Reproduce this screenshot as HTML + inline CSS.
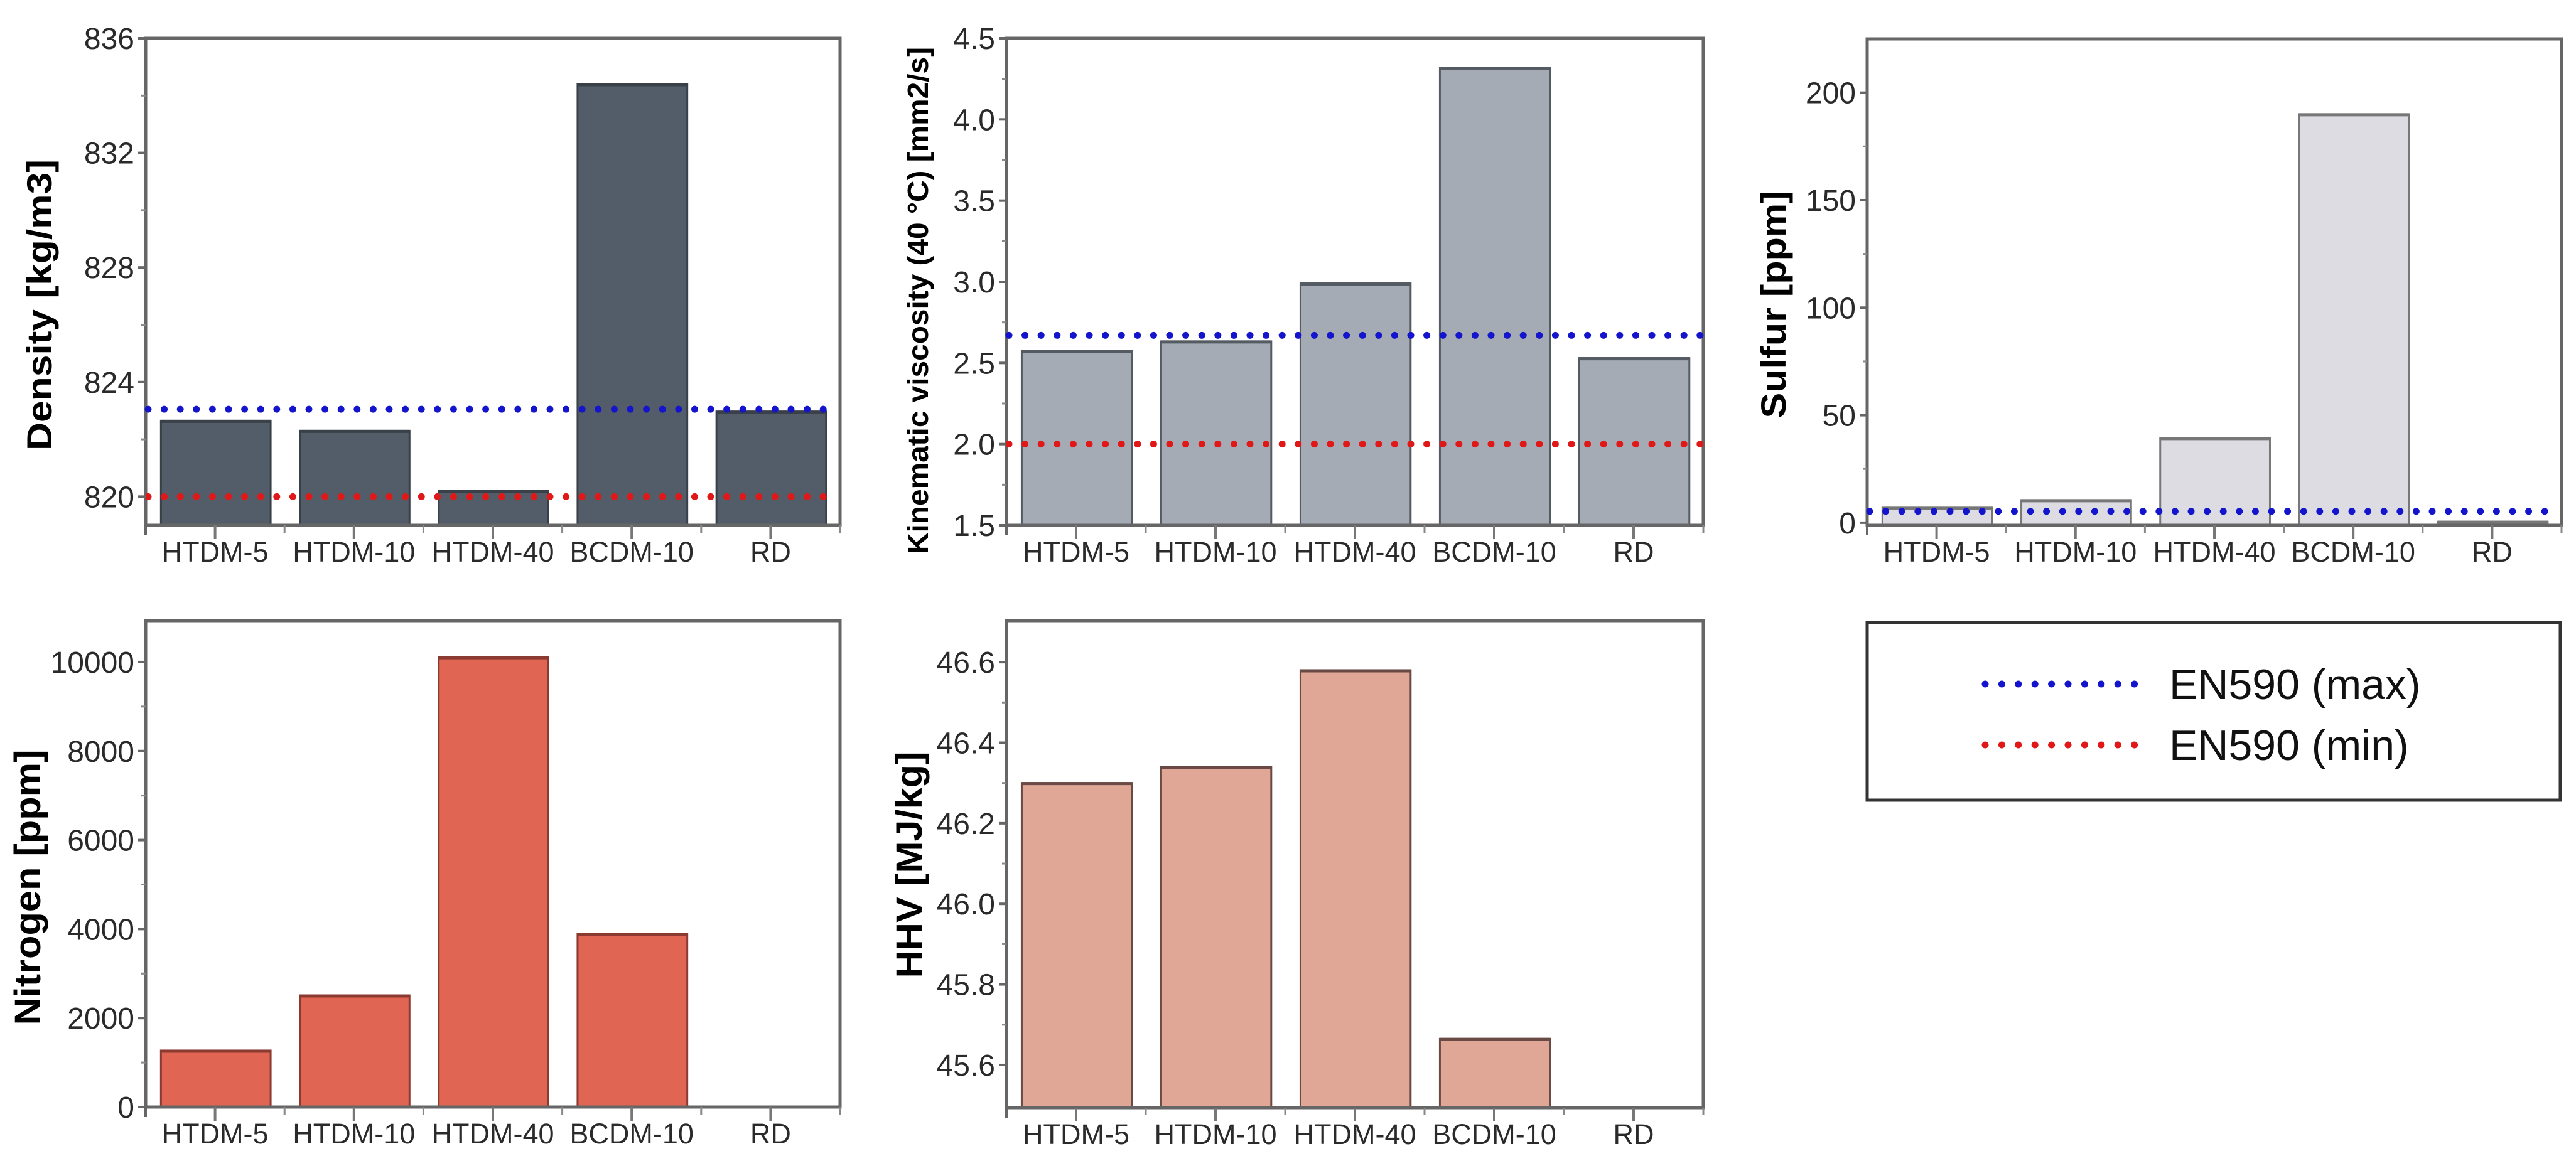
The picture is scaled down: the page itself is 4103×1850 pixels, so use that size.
<!DOCTYPE html>
<html><head><meta charset="utf-8"><style>
html,body{margin:0;padding:0;background:#fff;width:4103px;height:1850px;overflow:hidden}
svg{display:block;font-family:"Liberation Sans",Arial,sans-serif}
</style></head><body>
<svg id="fig" width="4103" height="1850" viewBox="0 0 4103 1850" xmlns="http://www.w3.org/2000/svg"></svg>
<script>
const categories = ["HTDM-5","HTDM-10","HTDM-40","BCDM-10","RD"];
const densityValues = [822.65, 822.3, 820.2, 834.4, 822.97];
const densityTicks = [820, 824, 828, 832, 836];
const viscosityValues = [2.575, 2.633, 2.99, 4.32, 2.53];
const viscosityTicks = ["1.5","2.0","2.5","3.0","3.5","4.0","4.5"];
const sulfurValues = [7, 10.5, 39.4, 190, 0.5];
const sulfurTicks = [0, 50, 100, 150, 200];
const nitrogenValues = [1270, 2510, 10110, 3890, null];
const nitrogenTicks = [0, 2000, 4000, 6000, 8000, 10000];
const hhvValues = [46.3, 46.34, 46.58, 45.665, null];
const hhvTicks = ["45.6","45.8","46.0","46.2","46.4","46.6"];
const densityLimits = [823.05, 820];
const viscosityLimits = [2.67, 2.0];
const sulfurLimits = [5.3];

const NS = "http://www.w3.org/2000/svg";
const svg = document.getElementById("fig");
function mk(tag, attrs, parent){
  const e = document.createElementNS(NS, tag);
  for (const k in attrs) e.setAttribute(k, attrs[k]);
  (parent||svg).appendChild(e);
  return e;
}
const LIMIT_COLORS = ["#1414cc","#e01818"];

function panel(cfg){
  const g = mk("g", {});
  
  
  const {x0,x1,y0,y1,ymin,ymax} = cfg;
  const ys = v => y1 - (v - ymin) / (ymax - ymin) * (y1 - y0);
  const cw = (x1 - x0) / categories.length;
  const xs = i => x0 + cw * i;
  // bars
  cfg.values.forEach((v,i)=>{
    if (v === null || v === undefined) return;
    const top = ys(v), bx = xs(i) + cw*0.11, bw = cw*0.79;
    const r = mk("rect", {x:bx, y:top, width:bw, height:Math.max(0,y1-top), fill:cfg.color, stroke:cfg.stroke, "stroke-width":3}, g);
    
    
    const t = mk("line", {x1:bx, x2:bx+bw, y1:top+1, y2:top+1, stroke:cfg.stroke, "stroke-width":5}, g);
  });
  // frame
  const fr = mk("rect", {x:x0, y:y0, width:x1-x0, height:y1-y0, fill:"none", stroke:"#666", "stroke-width":5}, g);
  
  
  // limit lines
  (cfg.limits||[]).forEach((v,k)=>{
    const ly = ys(v);
    const l = mk("line", {x1:x0+4, x2:x1-2, y1:ly, y2:ly, stroke:LIMIT_COLORS[k], "stroke-width":11, "stroke-linecap":"round", "stroke-dasharray":"0 25.6"}, g);
    
    
  });
  // y ticks
  const yt = mk("g", {}, g);
  
  
  cfg.ticks.forEach((t,i)=>{
    const ty = ys(parseFloat(t));
    mk("line", {x1:x0-12, x2:x0, y1:ty, y2:ty, stroke:"#666", "stroke-width":4}, yt);
    if (i < cfg.ticks.length-1){
      const my = ys((parseFloat(t)+parseFloat(cfg.ticks[i+1]))/2);
      if (my > y0) mk("line", {x1:x0-7, x2:x0, y1:my, y2:my, stroke:"#888", "stroke-width":3}, yt);
    }
    const tx = mk("text", {x:x0-18, y:ty+17, "text-anchor":"end", "font-size":48, fill:"#2a2a2a"}, yt);
    tx.textContent = t;
    
    
  });
  // x ticks
  const xt = mk("g", {}, g);
  
  
  categories.forEach((c,i)=>{
    const cx = xs(i) + cw/2;
    mk("line", {x1:cx, x2:cx, y1:y1, y2:y1+22, stroke:"#777", "stroke-width":4}, xt);
    mk("line", {x1:xs(i+1), x2:xs(i+1), y1:y1, y2:y1+12, stroke:"#888", "stroke-width":3}, xt);
    const tx = mk("text", {x:cx, y:y1+58, "text-anchor":"middle", "font-size":45, fill:"#2a2a2a"}, xt);
    tx.textContent = c;
    
    
  });
  mk("line", {x1:x0, x2:x0, y1:y1, y2:y1+16, stroke:"#666", "stroke-width":4}, xt);
  // title
  const tt = mk("text", {x:0, y:0, "text-anchor":"middle", "font-size":cfg.tsize, "font-weight":"bold", fill:"#000",
    transform:`translate(${cfg.tx},${cfg.ty}) rotate(-90)`, textLength:cfg.tlen, lengthAdjust:"spacingAndGlyphs"}, g);
  tt.textContent = cfg.title;
  
  
}

panel({name:"density", x0:232, x1:1338, y0:61, y1:837, ymin:819, ymax:836, values:densityValues, ticks:densityTicks.map(String),
  color:"#525d69", stroke:"#3a4048", limits:densityLimits, title:"Density [kg/m3]", tx:82, ty:486, tsize:56, tlen:464});
panel({name:"viscosity", x0:1603, x1:2713, y0:61, y1:837, ymin:1.5, ymax:4.5, values:viscosityValues, ticks:viscosityTicks,
  color:"#a4abb4", stroke:"#555b62", limits:viscosityLimits, title:"Kinematic viscosity (40 °C) [mm2/s]", tx:1478, ty:479, tsize:46, tlen:808});
panel({name:"sulfur", x0:2974, x1:4080, y0:62, y1:837, ymin:-1.2, ymax:225, values:sulfurValues, ticks:sulfurTicks.map(String),
  color:"#dcdce2", stroke:"#777", limits:sulfurLimits, title:"Sulfur [ppm]", tx:2844, ty:485, tsize:56, tlen:363});
panel({name:"nitrogen", x0:232, x1:1338, y0:989, y1:1764, ymin:0, ymax:10930, values:nitrogenValues, ticks:nitrogenTicks.map(String),
  color:"#e06653", stroke:"#8a3a30", limits:[], title:"Nitrogen [ppm]", tx:64, ty:1414, tsize:58, tlen:439});
panel({name:"hhv", x0:1603, x1:2713, y0:989, y1:1765, ymin:45.494, ymax:46.703, values:hhvValues, ticks:hhvTicks,
  color:"#e0a797", stroke:"#6a4a44", limits:[], title:"HHV [MJ/kg]", tx:1468, ty:1378, tsize:58, tlen:361});

// legend
const lg = mk("g", {});


mk("rect", {x:2974, y:992, width:1104, height:283, fill:"#fff", stroke:"#333", "stroke-width":5}, lg);
const legendLabels = ["EN590 (max)", "EN590 (min)"];
legendLabels.forEach((lab,k)=>{
  const ly = k===0 ? 1090 : 1187;
  const e = mk("g", {}, lg);
  
  
  mk("line", {x1:3162, x2:3426, y1:ly, y2:ly, stroke:LIMIT_COLORS[k], "stroke-width":11, "stroke-linecap":"round", "stroke-dasharray":"0 26.4"}, e);
  const t = mk("text", {x:3455, y:ly+24, "font-size":68, fill:"#111"}, e);
  t.textContent = lab;
});
</script>
</body></html>
